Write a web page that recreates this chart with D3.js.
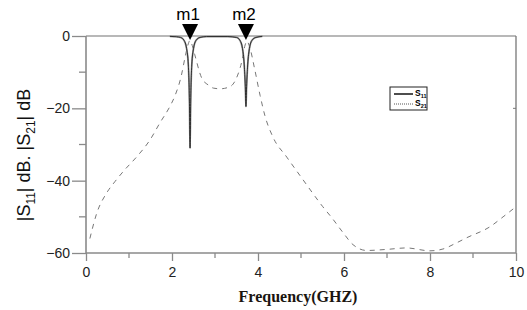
<!DOCTYPE html>
<html><head><meta charset="utf-8">
<script src="https://cdn.jsdelivr.net/npm/d3@7"></script>
<style>body{margin:0;background:#fff}svg{display:block}</style>
</head><body><svg id="c" width="527" height="310"></svg>
<script>
// S21 (dashed) samples: [GHz, dB]
const s21Freq = [0.09,0.25,0.48,0.67,0.9,1.18,1.49,1.72,1.95,2.07,2.22,2.3,2.37,2.42,2.47,2.53,2.69,2.85,2.96,3.12,3.35,3.5,3.62,3.7,3.74,3.81,3.92,4.05,4.16,4.35,4.67,5.05,5.33,5.5,5.72,5.98,6.21,6.53,7.0,7.45,8.0,8.3,8.6,8.85,9.4,9.7,10.0];
const s21dB   = [-56,-49,-43.4,-40.3,-37,-33.4,-28.7,-24,-19.5,-16.5,-10.8,-6.1,-2.5,-1.2,-2.6,-5.2,-11.6,-13.6,-14.4,-14.6,-14,-11.6,-7.2,-2.5,-1.4,-3.2,-9,-16.5,-22,-28,-33.5,-39.8,-44.4,-47.1,-50.3,-54.4,-57.7,-59.3,-59,-58.6,-59.4,-58.9,-57.3,-55.8,-52.7,-50,-47.2];
// S11 (solid) samples
const s11Freq = [1.95,2.1,2.2,2.28,2.34,2.38,2.405,2.42,2.435,2.46,2.5,2.56,2.65,2.8,3.3,3.5,3.58,3.64,3.68,3.705,3.72,3.735,3.76,3.8,3.86,3.95,4.1];
const s11dB   = [-0.1,-0.2,-0.4,-1.2,-3.5,-8,-18,-31,-18,-8,-3.5,-1.2,-0.4,-0.15,-0.15,-0.4,-1.2,-3.5,-8,-14,-19.5,-14,-8,-3.5,-1.2,-0.4,-0.1];
const xTicks = [0,2,4,6,8,10];
const xMinor = [1,3,5,7,9];
const yTicks = [0,-20,-40,-60];
const yMinor = [-10,-30,-50];
const markers = [{name:"m1",f:2.42},{name:"m2",f:3.72}];

const svg = d3.select("#c");
const L=86,R=516,T=36,B=253;
const x = d3.scaleLinear().domain([0,10]).range([L,R]);
const y = d3.scaleLinear().domain([-60,0]).range([B,T]);
const axisCol="#8a8a8a";

svg.append("line").attr("x1",L).attr("x2",R).attr("y1",T).attr("y2",T).attr("stroke","#a0a0a0").attr("stroke-width",1.6);
svg.append("line").attr("x1",R).attr("x2",R).attr("y1",T).attr("y2",B).attr("stroke","#777").attr("stroke-width",1.3);

const gx = svg.append("g").attr("transform",`translate(0,${B})`)
  .call(d3.axisBottom(x).tickValues(xTicks).tickSize(8).tickPadding(6).tickFormat(d3.format("d")));
gx.append("g").selectAll("line").data(xMinor).join("line")
  .attr("x1",d=>x(d)).attr("x2",d=>x(d)).attr("y1",0).attr("y2",5).attr("stroke",axisCol).attr("stroke-width",1.3);
const gy = svg.append("g").attr("transform",`translate(${L},0)`)
  .call(d3.axisLeft(y).tickValues(yTicks).tickSize(14).tickPadding(2).tickFormat(d3.format("d")));
gy.append("g").selectAll("line").data(yMinor).join("line")
  .attr("x1",-7).attr("x2",0).attr("y1",d=>y(d)).attr("y2",d=>y(d)).attr("stroke",axisCol).attr("stroke-width",1.3);
[gx,gy].forEach(g=>{
  g.select(".domain").attr("stroke",axisCol).attr("stroke-width",1.6);
  g.selectAll(".tick line").attr("stroke",axisCol).attr("stroke-width",1.3);
  g.selectAll("text").attr("font-family","Arial, 'Liberation Sans', sans-serif").attr("font-size",14).attr("fill","#222");
});
gy.select(".domain").attr("d",`M0,${B}V${T}`);
gx.select(".domain").attr("d",`M${L},0H${R}`);
svg.append("line").attr("x1",R-3).attr("x2",R).attr("y1",y(-20)).attr("y2",y(-20)).attr("stroke","#777");

const line = d3.line().x(d=>x(d[0])).y(d=>y(d[1])).curve(d3.curveMonotoneX);
const s21 = s21Freq.map((f,i)=>[f,s21dB[i]]);
const s11 = s11Freq.map((f,i)=>[f,s11dB[i]]);
svg.append("path").attr("d",line(s21)).attr("fill","none").attr("stroke","#777").attr("stroke-width",1).attr("stroke-dasharray","5,5");
svg.append("path").attr("d",line(s11)).attr("fill","none").attr("stroke","#999").attr("stroke-width",1.8);
svg.append("path").attr("d",line(s11)).attr("fill","none").attr("stroke","#222").attr("stroke-width",0.9);

markers.forEach(m=>{
  const cx=x(m.f);
  svg.append("path").attr("d",`M${cx-8},${T-12}L${cx+8},${T-12}L${cx},${T+4}Z`).attr("fill","#000");
  svg.append("text").attr("x",cx-2).attr("y",T-16).attr("text-anchor","middle")
    .attr("font-family","Arial, 'Liberation Sans', sans-serif").attr("font-size",17).attr("fill","#000").text(m.name);
});

const lg = svg.append("g").attr("transform","translate(390,87)");
lg.append("rect").attr("x",0).attr("y",0).attr("width",37).attr("height",23).attr("fill","#fff").attr("stroke","#222").attr("stroke-width",1);
lg.append("line").attr("x1",4).attr("x2",23).attr("y1",7).attr("y2",7).attr("stroke","#000").attr("stroke-width",1.4);
lg.append("line").attr("x1",4).attr("x2",23).attr("y1",17).attr("y2",17).attr("stroke","#555").attr("stroke-width",1).attr("stroke-dasharray","1,1");
[["S","11",9],["S","21",19]].forEach(([a,b,yy])=>{
  const t=lg.append("text").attr("x",25).attr("y",yy).attr("font-family","Arial, sans-serif").attr("font-weight","bold").attr("font-size",8.5).attr("fill","#000");
  t.append("tspan").text(a);
  t.append("tspan").attr("font-size",5.5).attr("dy",2).text(b);
});

svg.append("text").attr("x",(L+R)/2-3).attr("y",302).attr("text-anchor","middle")
  .attr("font-family","'Liberation Serif','Times New Roman',serif").attr("font-weight","bold").attr("font-size",16).attr("fill","#1a1510").text("Frequency(GHZ)");
const yt = svg.append("text").attr("transform","translate(30,155) rotate(-90)").attr("text-anchor","middle")
  .attr("font-family","Arial, 'Liberation Sans', sans-serif").attr("font-size",18).attr("fill","#111");
yt.append("tspan").text("|S");
yt.append("tspan").attr("font-size",12).attr("dy",5).text("11");
yt.append("tspan").attr("dy",-5).text("| dB. |S");
yt.append("tspan").attr("font-size",12).attr("dy",5).text("21");
yt.append("tspan").attr("dy",-5).text("| dB");
</script></body></html>
